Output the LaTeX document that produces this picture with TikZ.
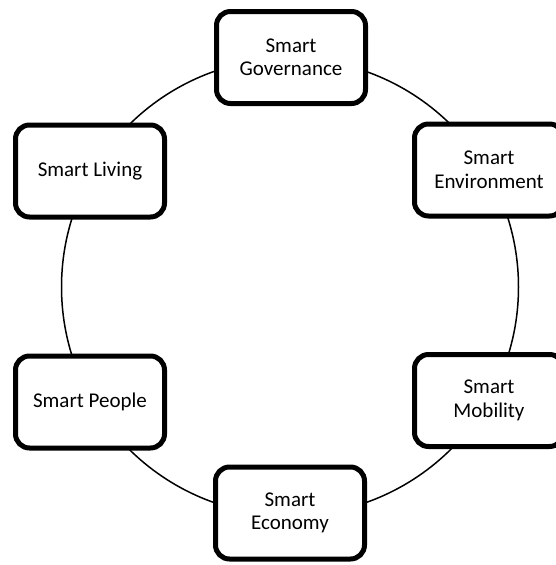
\documentclass[tikz,border=0pt]{standalone}
\usepackage{fontspec}
\setmainfont{Carlito}
\begin{document}
\begin{tikzpicture}[x=1pt,y=-1pt,
  box/.style={draw=black, fill=white, line width=5pt, rounded corners=14pt,
    minimum width=149pt, minimum height=92pt, inner sep=0pt, align=center,
    font=\fontsize{21}{23.5}\selectfont},
  ring/.style={draw=black, line width=1.5pt}]
\useasboundingbox (0,0) rectangle (555,565);
\coordinate (c) at (290,287);
\draw[ring] (c) circle[radius=228.5];
\node[box] (gov) at (291,57.5) {Smart\\Governance};
\node[box] (env) at (489,170) {Smart\\Environment};
\node[box] (liv) at (90,171) {Smart Living};
\node[box] (peo) at (90,402) {Smart People};
\node[box] (mob) at (489,400.5) {Smart\\Mobility};
\node[box] (eco) at (290,513) {Smart\\Economy};
\end{tikzpicture}
\end{document}
